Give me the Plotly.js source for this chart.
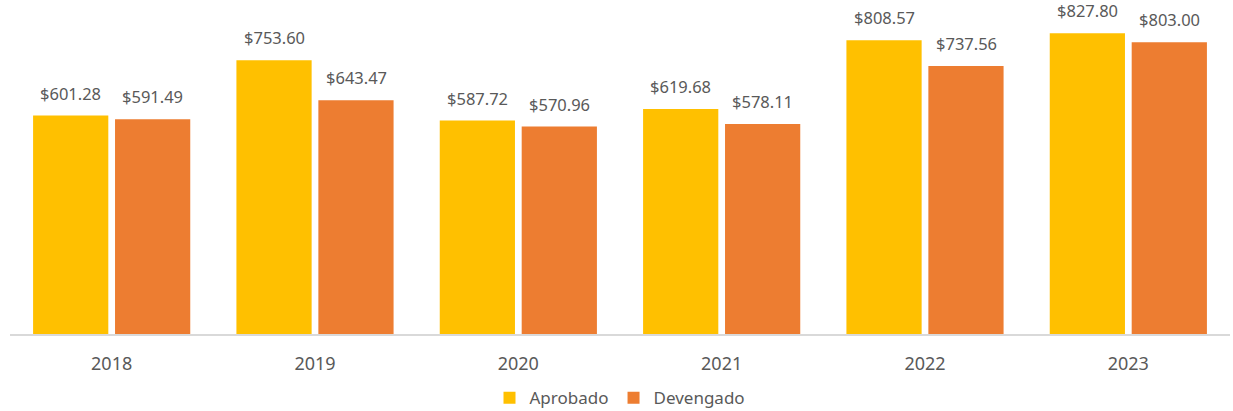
<!DOCTYPE html>
<html>
<head>
<meta charset="utf-8">
<script src="https://cdn.plot.ly/plotly-3.0.1.min.js"></script>
<style>html,body{margin:0;padding:0;background:#fff;}#chart{width:1233px;height:411px;}</style>
</head>
<body>
<div id="chart"></div>
<script>
const years = ['2018', '2019', '2020', '2021', '2022', '2023'];
const aprobado = [601.28, 753.60, 587.72, 619.68, 808.57, 827.80];
const devengado = [591.49, 643.47, 570.96, 578.11, 737.56, 803.00];
const seriesNames = ['Aprobado', 'Devengado'];
const seriesColors = ['#FFC000', '#ED7D31'];

const fmt = v => '$' + v.toFixed(2);
const font = 'Noto Sans, sans-serif';
const textColor = '#595959';

const traces = [aprobado, devengado].map((vals, i) => ({
  type: 'bar',
  name: seriesNames[i],
  x: years,
  y: vals,
  marker: {color: seriesColors[i]},
  hoverinfo: 'skip'
}));

const annotations = [];
[aprobado, devengado].forEach((vals, i) => {
  vals.forEach((v, j) => {
    annotations.push({
      x: j, y: v, xref: 'x', yref: 'y',
      text: fmt(v), showarrow: false,
      xanchor: 'center', yanchor: 'bottom',
      xshift: i === 0 ? -41 : 41, yshift: 9,
      font: {family: font, size: 16.5, color: textColor}
    });
  });
});

const layout = {
  width: 1233, height: 411,
  margin: {l: 10, r: 3, t: 10, b: 77, autoexpand: false},
  paper_bgcolor: '#fff', plot_bgcolor: '#fff',
  barmode: 'group', bargap: 0.194, bargroupgap: 0.082,
  font: {family: font, color: textColor},
  xaxis: {
    type: 'category', range: [-0.5, years.length - 0.5], autorange: false,
    showgrid: false, zeroline: false, automargin: false,
    showline: true, linecolor: '#D9D9D9', linewidth: 2,
    ticks: 'outside', ticklen: 12, tickcolor: 'rgba(0,0,0,0)',
    tickfont: {family: font, size: 18, color: textColor}
  },
  yaxis: {range: [0, 892], autorange: false, visible: false, showgrid: false, zeroline: false},
  showlegend: true,
  legend: {
    orientation: 'h', x: 0.5, xanchor: 'center', y: -0.198, yanchor: 'middle',
    font: {family: font, size: 17, color: textColor},
    itemwidth: 30, traceorder: 'normal'
  },
  annotations: annotations
};

Plotly.newPlot('chart', traces, layout, {displayModeBar: false, staticPlot: true});
</script>
</body>
</html>
